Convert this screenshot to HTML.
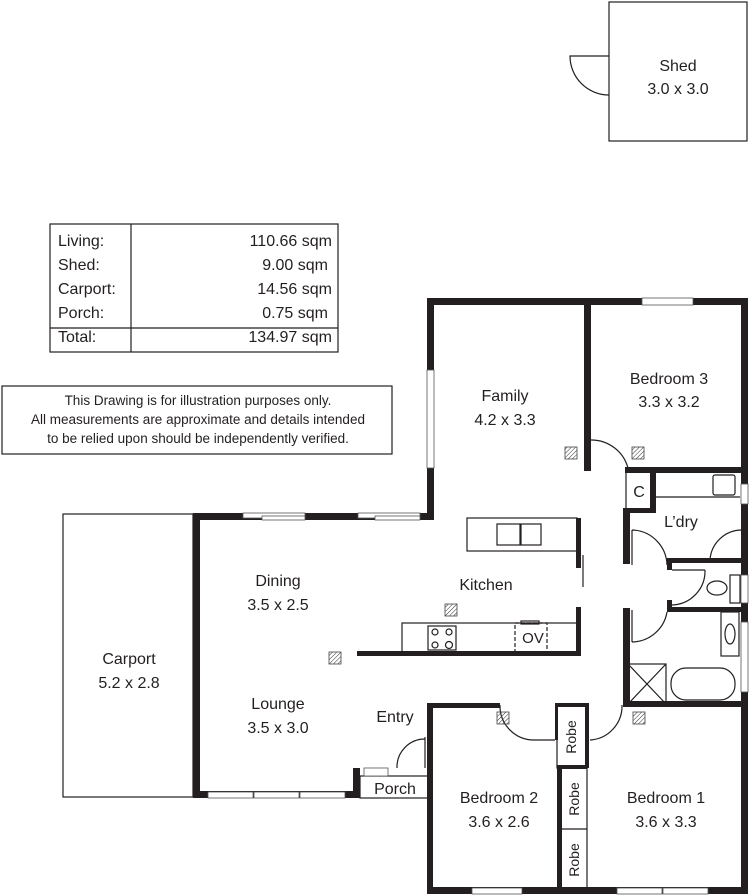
<!DOCTYPE html>
<html><head><meta charset="utf-8"><style>
html,body{margin:0;padding:0;background:#fff;}
svg{display:block;}
text{font-family:"Liberation Sans",sans-serif;fill:#231f20;}
</style></head><body>
<svg width="750" height="896" viewBox="0 0 750 896" xmlns="http://www.w3.org/2000/svg">
<defs>
<pattern id="h" width="3" height="3" patternUnits="userSpaceOnUse" patternTransform="rotate(45)">
<line x1="0" y1="0" x2="0" y2="3" stroke="#333" stroke-width="1"/></pattern>
</defs>
<g fill="none" stroke="#231f20" stroke-width="1.2">
<!-- shed -->
<rect x="609" y="2" width="138" height="139"/>
<path d="M609 56 L570 56 A39 39 0 0 0 609 95"/>
<!-- table -->
<rect x="50" y="224" width="288" height="128"/>
<line x1="131" y1="224" x2="131" y2="352"/>
<line x1="50" y1="328" x2="338" y2="328"/>
<!-- disclaimer -->
<rect x="2" y="386" width="390" height="68"/>
<!-- carport -->
<rect x="63" y="514" width="130" height="283"/>
<!-- porch -->
<rect x="360" y="776" width="68" height="22"/>
<!-- island & sink -->
<rect x="467" y="518" width="110" height="33"/>
<rect x="497" y="524" width="23" height="21"/><rect x="521" y="524" width="20" height="21"/>
<line x1="583" y1="555" x2="583" y2="587"/>
<!-- bench -->
<rect x="402" y="623" width="176" height="31"/>
<rect x="428" y="626" width="28" height="24"/>
<circle cx="435" cy="632" r="3"/><circle cx="449" cy="632" r="3"/><circle cx="435" cy="645" r="3"/><circle cx="449" cy="645" r="3.5"/>
<rect x="515" y="623" width="32" height="31" stroke-dasharray="4 2"/>
<rect x="521" y="621" width="18" height="3"/>
<!-- C, laundry -->
<rect x="626" y="472" width="27" height="38"/>
<line x1="656" y1="497" x2="740" y2="497"/>
<rect x="713" y="475" width="22" height="20" rx="2"/>
<!-- WC -->
<rect x="730" y="575" width="10" height="28"/>
<ellipse cx="717" cy="588" rx="10" ry="7"/>
<!-- bath -->
<rect x="721" y="612" width="18" height="44"/>
<ellipse cx="730" cy="634" rx="5" ry="10"/>
<rect x="628" y="664" width="38" height="40"/>
<line x1="628" y1="664" x2="666" y2="704"/><line x1="666" y1="664" x2="628" y2="704"/>
<rect x="671" y="668" width="64" height="32" rx="15"/>
<!-- robes -->
<rect x="557" y="705" width="29" height="63"/>
<rect x="561" y="768" width="26" height="122"/>
<line x1="561" y1="829" x2="587" y2="829"/>
<!-- doors -->
<path d="M590 440 A38 38 0 0 1 628 468 M590 440 L590 468"/>
<path d="M632 530 A36 36 0 0 1 667 565 M632 530 L632 565"/>
<path d="M742 530 A32 32 0 0 0 710 560 M742 530 L742 560"/>
<path d="M705 570 A34 34 0 0 1 672 605 M672 570 L705 570"/>
<path d="M667 612 A36 36 0 0 1 632 642 M632 610 L632 642"/>
<path d="M500 705 A34 34 0 0 0 534 740 L555 740"/>
<path d="M622 705 A34 34 0 0 1 590 740"/>
<path d="M425 739 A28 28 0 0 0 397 768 M425 737 L425 768"/>
</g>
<!-- vents -->
<g fill="url(#h)" stroke="#444" stroke-width="0.8">
<rect x="565" y="447" width="12" height="12"/><rect x="632" y="447" width="12" height="12"/>
<rect x="445" y="604" width="12" height="12"/><rect x="329" y="652" width="12" height="12"/>
<rect x="497" y="712" width="12" height="12"/><rect x="633" y="712" width="12" height="12"/>
</g>
<!-- walls -->
<g fill="#231f20">
<rect x="427" y="298" width="321" height="7"/>
<rect x="741" y="298" width="7" height="596"/>
<rect x="427" y="298" width="7" height="222"/>
<rect x="193" y="513" width="241" height="7"/>
<rect x="193" y="513" width="7" height="285"/>
<rect x="193" y="791" width="167" height="7"/>
<rect x="353" y="768" width="7" height="30"/>
<rect x="427" y="703" width="6" height="191"/>
<rect x="427" y="887" width="321" height="7"/>
<rect x="427" y="703" width="73" height="5"/>
<rect x="555" y="703" width="34" height="4"/>
<rect x="555" y="703" width="3" height="37"/>
<rect x="585" y="703" width="4" height="65"/>
<rect x="557" y="765" width="30" height="4"/>
<rect x="557" y="765" width="5" height="129"/>
<rect x="623" y="701" width="125" height="6"/>
<rect x="584" y="298" width="7" height="173"/>
<rect x="625" y="467" width="123" height="6"/>
<rect x="623" y="508" width="33" height="5"/>
<rect x="650" y="472" width="6" height="41"/>
<rect x="623" y="508" width="7" height="56"/>
<rect x="667" y="558" width="81" height="5"/>
<rect x="667" y="558" width="5" height="12"/>
<rect x="667" y="600" width="5" height="12"/>
<rect x="667" y="607" width="81" height="5"/>
<rect x="623" y="608" width="7" height="99"/>
<rect x="576" y="518" width="5" height="50"/>
<rect x="576" y="607" width="5" height="49"/>
<rect x="357" y="651" width="224" height="5"/>
</g>
<!-- windows -->
<g fill="#fff" stroke="#555" stroke-width="0.8">
<rect x="427" y="370" width="7" height="98"/>
<rect x="642" y="298" width="51" height="7"/>
<rect x="243" y="513" width="62" height="5"/><rect x="262" y="516" width="43" height="4"/>
<rect x="358" y="513" width="62" height="5"/><rect x="375" y="516" width="45" height="4"/>
<rect x="208" y="792" width="45" height="6"/><rect x="254" y="792" width="45" height="6"/><rect x="300" y="792" width="45" height="6"/>
<rect x="364" y="768" width="24" height="8"/>
<rect x="472" y="888" width="50" height="6"/>
<rect x="617" y="888" width="45" height="6"/><rect x="663" y="888" width="45" height="6"/>
<rect x="741" y="484" width="7" height="20"/>
<rect x="741" y="575" width="7" height="28"/>
<rect x="741" y="622" width="7" height="70"/>
</g>
<g font-size="16" text-anchor="middle">
<text x="678" y="71">Shed</text><text x="678" y="94">3.0 x 3.0</text>
<text x="505" y="401">Family</text><text x="505" y="425">4.2 x 3.3</text>
<text x="669" y="384">Bedroom 3</text><text x="669" y="407">3.3 x 3.2</text>
<text x="486" y="590">Kitchen</text>
<text x="278" y="586">Dining</text><text x="278" y="610">3.5 x 2.5</text>
<text x="129" y="664">Carport</text><text x="129" y="688">5.2 x 2.8</text>
<text x="278" y="709">Lounge</text><text x="278" y="733">3.5 x 3.0</text>
<text x="395" y="722">Entry</text>
<text x="395" y="794">Porch</text>
<text x="499" y="803">Bedroom 2</text><text x="499" y="827">3.6 x 2.6</text>
<text x="666" y="803">Bedroom 1</text><text x="666" y="827">3.6 x 3.3</text>
<text x="681" y="527">L’dry</text>
<text x="639" y="497">C</text>
<text x="533" y="643" font-size="15">OV</text>
</g>
<g font-size="14" text-anchor="middle">
<text transform="translate(576,737) rotate(-90)">Robe</text>
<text transform="translate(579,799) rotate(-90)">Robe</text>
<text transform="translate(579,860) rotate(-90)">Robe</text>
</g>
<g font-size="16">
<text x="58" y="246">Living:</text><text x="58" y="270">Shed:</text><text x="58" y="294">Carport:</text><text x="58" y="318">Porch:</text><text x="58" y="342">Total:</text>
</g>
<g font-size="16" text-anchor="end">
<text x="332" y="246">110.66 sqm</text><text x="328" y="270">9.00 sqm</text><text x="332" y="294">14.56 sqm</text><text x="328" y="318">0.75 sqm</text><text x="332" y="342">134.97 sqm</text>
</g>
<g font-size="13.5" text-anchor="middle">
<text x="198" y="405">This Drawing is for illustration purposes only.</text>
<text x="198" y="424">All measurements are approximate and details intended</text>
<text x="198" y="443">to be relied upon should be independently verified.</text>
</g>
</svg>
</body></html>
